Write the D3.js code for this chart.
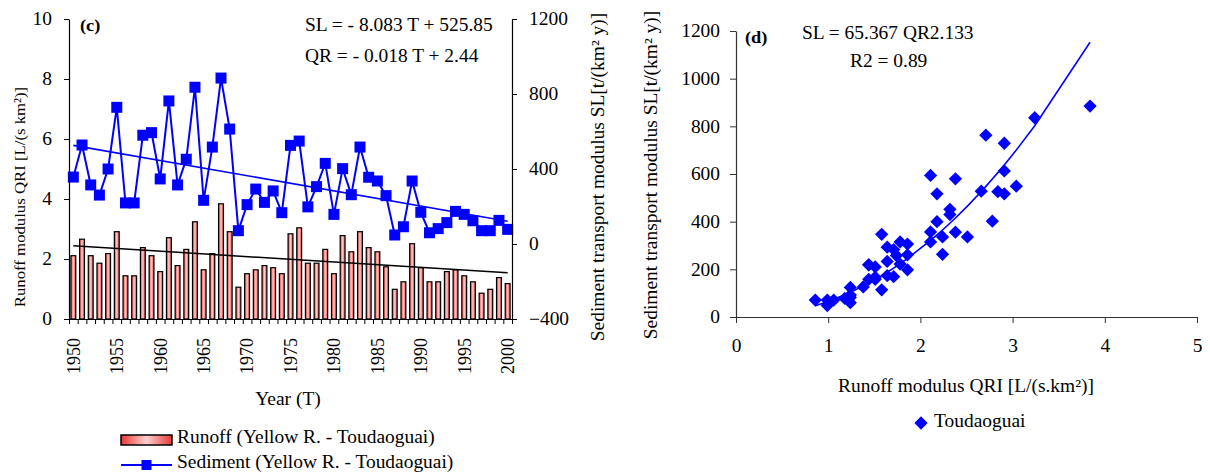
<!DOCTYPE html>
<html>
<head>
<meta charset="utf-8">
<script src="https://cdn.jsdelivr.net/npm/d3@7"></script>
<style>
html,body{margin:0;padding:0;background:#fff;}
svg{display:block;font-family:"Liberation Serif","Times New Roman",serif;}
</style>
</head>
<body>
<svg id="chart" width="1210" height="474"></svg>
<script>
// ---------- DATA ----------
const years = d3.range(1950, 2001);
const runoff = [2.11,2.66,2.11,1.86,2.18,2.91,1.44,1.44,2.38,2.11,
                1.58,2.71,1.78,2.32,3.24,1.64,2.18,3.84,2.91,1.06,
                1.51,1.64,1.78,1.71,1.51,2.84,3.04,1.86,1.86,2.32,
                1.51,2.78,2.24,2.91,2.38,2.24,1.74,0.99,1.24,2.51,
                1.71,1.24,1.24,1.58,1.64,1.44,1.24,0.86,0.99,1.38,1.18];
const sediment = [357,528,315,261,400,729,219,219,580,594,
                  347,763,315,452,836,233,517,885,613,71,
                  210,293,222,283,167,526,549,198,306,430,
                  158,402,263,517,356,336,258,48,92,336,
                  169,60,82,114,174,158,124,71,71,126,78];
const slTrend = [-8.083, 525.85];   // SL = a*T + b, T = year - 1950
const qrTrend = [-0.018, 2.44];     // QR = a*T + b
const powerFit = [65.367, 2.133];   // SL = a*QR^b
const leftTicks = [0,2,4,6,8,10];
const rightTicks = [-400,0,400,800,1200];
const yearLabels = [1950,1955,1960,1965,1970,1975,1980,1985,1990,1995,2000];
const scatterXTicks = [0,1,2,3,4,5];
const scatterYTicks = [0,200,400,600,800,1000,1200];

// ---------- SETUP ----------
const svg = d3.select("#chart");
const FS = 18;
const SX = 1.08;   // horizontal text stretch
const defs = svg.append("defs");
const grad = defs.append("linearGradient").attr("id","barGrad")
  .attr("x1","0").attr("x2","1").attr("y1","0").attr("y2","0");
grad.append("stop").attr("offset","0").attr("stop-color","#e53935");
grad.append("stop").attr("offset","0.5").attr("stop-color","#ffcfcf");
grad.append("stop").attr("offset","1").attr("stop-color","#e53935");

function label(xp, yp, txt, opts={}) {
  const t = svg.append("text")
    .attr("transform", `translate(${xp},${yp}) scale(${SX},1)`)
    .attr("font-size", opts.size || FS)
    .attr("text-anchor", opts.anchor || "start")
    .text(txt);
  if (opts.bold) t.attr("font-weight","bold");
  return t;
}
function vlabel(xp, yp, txt, size) {
  return svg.append("text")
    .attr("transform", `translate(${xp},${yp}) rotate(-90) scale(${SX},1)`)
    .attr("text-anchor","middle").attr("font-size", size || FS).text(txt);
}
function styleAxis(a, col) {
  a.select(".domain").attr("stroke",col).attr("stroke-width",1.2);
  a.selectAll(".tick line").attr("stroke",col).attr("stroke-width",1);
  a.selectAll("text").attr("font-family","Liberation Serif").attr("font-size",FS).attr("fill","#000");
}

// ---------- LEFT CHART ----------
const x = d3.scaleBand().domain(years).range([69,512]).padding(0);
const yL = d3.scaleLinear().domain([0,10]).range([319,19]);
const yR = d3.scaleLinear().domain([-400,1200]).range([319,19]);
const cx = yr => x(yr) + x.bandwidth()/2;
const bw = x.bandwidth()*0.56;

const gL = svg.append("g");
gL.selectAll("rect.bar").data(years).join("rect")
  .attr("class","bar")
  .attr("x", d => cx(d) - bw/2)
  .attr("y", (d,i) => yL(runoff[i]))
  .attr("width", bw)
  .attr("height", (d,i) => yL(0) - yL(runoff[i]))
  .attr("fill","url(#barGrad)")
  .attr("stroke","#000").attr("stroke-width",1.2);

gL.append("line")
  .attr("x1", cx(1950)).attr("x2", cx(2000))
  .attr("y1", yL(qrTrend[1])).attr("y2", yL(qrTrend[0]*50 + qrTrend[1]))
  .attr("stroke","#000").attr("stroke-width",1.5);

gL.append("path")
  .datum(years)
  .attr("d", d3.line().x(d => cx(d)).y((d,i) => yR(sediment[i])))
  .attr("fill","none").attr("stroke","#0000ff").attr("stroke-width",2);
gL.append("line")
  .attr("x1", cx(1950)).attr("x2", cx(2000))
  .attr("y1", yR(slTrend[1])).attr("y2", yR(slTrend[0]*50 + slTrend[1]))
  .attr("stroke","#0000ff").attr("stroke-width",1.6);
const ms = 11;
gL.selectAll("rect.mk").data(years).join("rect")
  .attr("class","mk")
  .attr("x", d => cx(d) - ms/2)
  .attr("y", (d,i) => yR(sediment[i]) - ms/2)
  .attr("width", ms).attr("height", ms)
  .attr("fill","#0000ff");

const axL = gL.append("g").attr("transform","translate(69,0)")
  .call(d3.axisLeft(yL).tickValues(leftTicks).tickFormat(d3.format("d")).tickSize(5).tickPadding(12).tickSizeOuter(0));
const axR = gL.append("g").attr("transform","translate(512,0)")
  .call(d3.axisRight(yR).tickValues(rightTicks).tickFormat(d3.format("d")).tickSize(5).tickPadding(12).tickSizeOuter(0));
const bounds = years.map(d => x(d)).concat([x.range()[1]]);
const axB = gL.append("g").attr("transform","translate(0,319)")
  .call(d3.axisBottom(d3.scaleLinear().domain([69,512]).range([69,512]))
        .tickValues(bounds).tickSize(5).tickFormat("").tickSizeOuter(0));
[axL, axR, axB].forEach(a => styleAxis(a, "#000"));
axL.selectAll(".tick text").attr("transform", `scale(${SX},1)`).attr("x", -17/SX);
axR.selectAll(".tick text").attr("transform", `scale(${SX},1)`).attr("x", 17/SX);

gL.selectAll("text.yl").data(yearLabels).join("text")
  .attr("class","yl")
  .attr("transform", d => `translate(${cx(d)},338) rotate(-90)`)
  .attr("text-anchor","end").attr("dy","0.35em")
  .attr("font-size",FS).text(d => d);

vlabel(25, 197, "Runoff modulus QRI [L/(s km²)]", 15.5);
vlabel(604, 177, "Sediment transport modulus SL[t/(km² y)]");
label(288, 405, "Year (T)", {anchor:"middle"});

label(80, 31, "(c)", {size:17, bold:true});
label(305, 31, "SL = - 8.083 T + 525.85");
label(305, 62, "QR = - 0.018 T + 2.44");

svg.append("rect").attr("x",121).attr("y",435).attr("width",51).attr("height",10)
  .attr("fill","url(#barGrad)").attr("stroke","#000").attr("stroke-width",1.5);
label(177, 443, "Runoff (Yellow R. - Toudaoguai)");
svg.append("line").attr("x1",121).attr("x2",172).attr("y1",465).attr("y2",465)
  .attr("stroke","#0000ff").attr("stroke-width",2);
svg.append("rect").attr("x",146.5-5).attr("y",460).attr("width",10).attr("height",10).attr("fill","#0000ff");
label(177, 468, "Sediment (Yellow R. - Toudaoguai)");

// ---------- RIGHT CHART ----------
const xs = d3.scaleLinear().domain([0,5]).range([736,1197]);
const ys = d3.scaleLinear().domain([0,1200]).range([317,31]);
const gR = svg.append("g");

const axSX = gR.append("g").attr("transform","translate(0,317)")
  .call(d3.axisBottom(xs).tickValues(scatterXTicks).tickFormat(d3.format("d")).tickSize(6).tickPadding(16).tickSizeOuter(0));
const axSY = gR.append("g").attr("transform","translate(736,0)")
  .call(d3.axisLeft(ys).tickValues(scatterYTicks).tickFormat(d3.format("d")).tickSize(6).tickPadding(10).tickSizeOuter(0));
[axSX, axSY].forEach(a => styleAxis(a, "#333"));
axSY.selectAll(".tick text").attr("transform", `scale(${SX},1)`).attr("x", -16/SX);
axSX.selectAll(".tick text").attr("transform", `scale(${SX},1)`);

const sortedQ = runoff.slice().sort((a,b) => a-b);
gR.append("path").datum(sortedQ)
  .attr("d", d3.line().x(q => xs(q)).y(q => ys(powerFit[0]*Math.pow(q, powerFit[1]))))
  .attr("fill","none").attr("stroke","#0000ff").attr("stroke-width",1.6);

const diamond = d3.symbol().type(d3.symbolSquare).size(88);
gR.selectAll("path.dm").data(years).join("path")
  .attr("class","dm")
  .attr("d", diamond)
  .attr("transform", (d,i) => `translate(${xs(runoff[i])},${ys(sediment[i])}) rotate(45)`)
  .attr("fill","#0000ff");

vlabel(657, 175, "Sediment transport modulus SL[t/(km² y)]");
label(966, 392, "Runoff modulus QRI [L/(s.km²)]", {anchor:"middle"});
label(745, 43, "(d)", {size:17, bold:true});
label(802, 39, "SL = 65.367 QR2.133");
label(850, 67, "R2 = 0.89");

svg.append("path").attr("d", diamond)
  .attr("transform","translate(921,423) rotate(45)").attr("fill","#0000ff");
label(934, 427, "Toudaoguai");
</script>
</body>
</html>
